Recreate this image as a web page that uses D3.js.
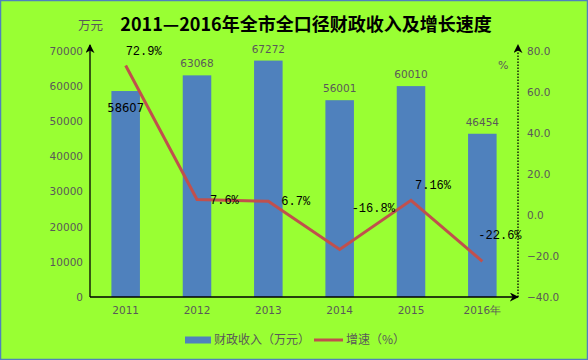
<!DOCTYPE html>
<html>
<head>
<meta charset="utf-8">
<script src="https://cdn.jsdelivr.net/npm/d3@7"></script>
<style>
  body { margin: 0; background: #fff; }
  svg { display: block; }
</style>
</head>
<body>
<svg id="chart" width="588" height="360"></svg>
<script>
// data
const years = ["2011", "2012", "2013", "2014", "2015", "2016年"];
const revenue = [58607, 63068, 67272, 56001, 60010, 46454];
const growth = [72.9, 7.6, 6.7, -16.8, 7.16, -22.6];
const growthLabels = ["72.9%", "7.6%", "6.7%", "-16.8%", "7.16%", "-22.6%"];
const leftTicks = [0, 10000, 20000, 30000, 40000, 50000, 60000, 70000];
const rightTicks = [-40, -20, 0, 20, 40, 60, 80];

const W = 588, H = 360;
const margin = { left: 90, right: 70, top: 51, bottom: 63 };
const svg = d3.select("#chart");

// background + border
svg.append("rect")
    .attr("x", 0.5).attr("y", 0.5)
    .attr("width", W - 1).attr("height", H - 1)
    .attr("fill", "#99ff33")
    .attr("stroke", "#4f81bd")
    .attr("stroke-width", 1.5);

const x = d3.scaleBand()
    .domain(years)
    .range([margin.left, W - margin.right])
    .paddingInner(0.6)
    .paddingOuter(0.3);

const y = d3.scaleLinear().domain([0, 70000]).range([H - margin.bottom, margin.top]);
const y2 = d3.scaleLinear().domain([-40, 80]).range([H - margin.bottom, margin.top]);

const gray = "#595959";
const numFont = "'DejaVu Sans', sans-serif";

// arrow marker
svg.append("defs").append("marker")
    .attr("id", "arrow")
    .attr("viewBox", "0 0 10 10")
    .attr("refX", 9).attr("refY", 5)
    .attr("markerWidth", 9).attr("markerHeight", 9)
    .attr("markerUnits", "userSpaceOnUse")
    .attr("orient", "auto")
    .append("path")
    .attr("d", "M0,0 L10,5 L0,10 L3,5 Z")
    .attr("fill", "#000");

// bars
svg.selectAll(".bar")
    .data(revenue)
    .enter().append("rect")
    .attr("class", "bar")
    .attr("x", (d, i) => x(years[i]))
    .attr("y", d => y(d))
    .attr("width", x.bandwidth())
    .attr("height", d => y(0) - y(d))
    .attr("fill", "#4f81bd");

// left axis
const yAxis = svg.append("g")
    .attr("transform", `translate(${margin.left},0)`)
    .call(d3.axisLeft(y).tickValues(leftTicks).tickSize(0).tickPadding(7).tickFormat(d3.format("d")));
yAxis.select(".domain").remove();
yAxis.selectAll("text")
    .style("font-family", numFont).style("font-size", "10.5px").attr("fill", gray);
svg.append("line")
    .attr("x1", margin.left).attr("x2", margin.left)
    .attr("y1", y(0)).attr("y2", y(70000) - 6)
    .attr("stroke", "#000").attr("stroke-width", 1.3)
    .attr("marker-end", "url(#arrow)");

// right axis
const y2Axis = svg.append("g")
    .attr("transform", `translate(${W - margin.right},0)`)
    .call(d3.axisRight(y2).tickValues(rightTicks).tickSize(0).tickPadding(9).tickFormat(d3.format(".1f")));
y2Axis.select(".domain").remove();
y2Axis.selectAll("text")
    .style("font-family", numFont).style("font-size", "10.5px").attr("fill", gray);
svg.append("line")
    .attr("x1", W - margin.right).attr("x2", W - margin.right)
    .attr("y1", y2(-40)).attr("y2", y2(80) - 6)
    .attr("stroke", "#000").attr("stroke-width", 1.3)
    .attr("stroke-dasharray", "1.5,1.5")
    .attr("marker-end", "url(#arrow)");

// x axis
const xAxis = svg.append("g")
    .attr("transform", `translate(0,${y(0)})`)
    .call(d3.axisBottom(x).tickSize(0).tickPadding(10));
xAxis.select(".domain").remove();
xAxis.selectAll("text")
    .style("font-family", numFont).style("font-size", "10.5px").attr("fill", gray);
svg.append("line")
    .attr("x1", margin.left).attr("x2", W - margin.right)
    .attr("y1", y(0)).attr("y2", y(0))
    .attr("stroke", "#000").attr("stroke-width", 1.3)
    .attr("marker-end", "url(#arrow)");

// growth line
const cx = i => x(years[i]) + x.bandwidth() / 2;
svg.append("path")
    .datum(growth)
    .attr("fill", "none")
    .attr("stroke", "#c0504d")
    .attr("stroke-width", 3)
    .attr("stroke-linejoin", "miter")
    .attr("d", d3.line().x((d, i) => cx(i)).y(d => y2(d)));

// bar value labels (first one sits inside the bar)
svg.selectAll(".bar-label")
    .data(revenue)
    .enter().append("text")
    .attr("x", (d, i) => cx(i))
    .attr("y", (d, i) => i === 0 ? y(d) + 21 : y(d) - 8)
    .attr("text-anchor", "middle")
    .style("font-family", numFont)
    .style("font-size", (d, i) => i === 0 ? "11.5px" : "10.5px")
    .attr("fill", (d, i) => i === 0 ? "#000" : gray)
    .text(d => d);

// growth labels
const growthDx = [0, 13, 13, 12, 4, -4];
const growthDy = [-11, 5, 4, -37, -11, -22];
svg.selectAll(".g-label")
    .data(growth)
    .enter().append("text")
    .attr("x", (d, i) => cx(i) + growthDx[i])
    .attr("y", (d, i) => y2(d) + growthDy[i])
    .style("font-family", "'Liberation Mono', 'DejaVu Sans Mono', monospace")
    .style("font-size", "12px")
    .attr("fill", "#000")
    .text((d, i) => growthLabels[i]);

// title and units
svg.append("text")
    .attr("x", 306).attr("y", 31)
    .attr("text-anchor", "middle")
    .style("font-family", "'Noto Sans CJK SC', sans-serif")
    .style("font-size", "18px")
    .style("font-weight", "bold")
    .attr("fill", "#000")
    .text("2011—2016年全市全口径财政收入及增长速度");
svg.append("text")
    .attr("x", 78).attr("y", 30)
    .style("font-family", "'Noto Sans CJK SC', sans-serif")
    .style("font-size", "12.5px")
    .attr("fill", gray)
    .text("万元");
svg.append("text")
    .attr("x", 498).attr("y", 69)
    .style("font-family", numFont)
    .style("font-size", "11px")
    .attr("fill", gray)
    .text("%");

// legend
const legend = svg.append("g").attr("transform", "translate(185,340)");
legend.append("rect")
    .attr("x", 0).attr("y", -3.5)
    .attr("width", 26).attr("height", 7)
    .attr("fill", "#4f81bd");
legend.append("text")
    .attr("x", 29).attr("y", 0).attr("dy", "0.35em")
    .style("font-family", "'Noto Sans CJK SC', sans-serif")
    .style("font-size", "12px")
    .attr("fill", gray)
    .text("财政收入（万元）");
legend.append("line")
    .attr("x1", 129).attr("x2", 158)
    .attr("y1", 0).attr("y2", 0)
    .attr("stroke", "#c0504d").attr("stroke-width", 3);
legend.append("text")
    .attr("x", 161).attr("y", 0).attr("dy", "0.35em")
    .style("font-family", "'Noto Sans CJK SC', sans-serif")
    .style("font-size", "12px")
    .attr("fill", gray)
    .text("增速（%）");
</script>
</body>
</html>
